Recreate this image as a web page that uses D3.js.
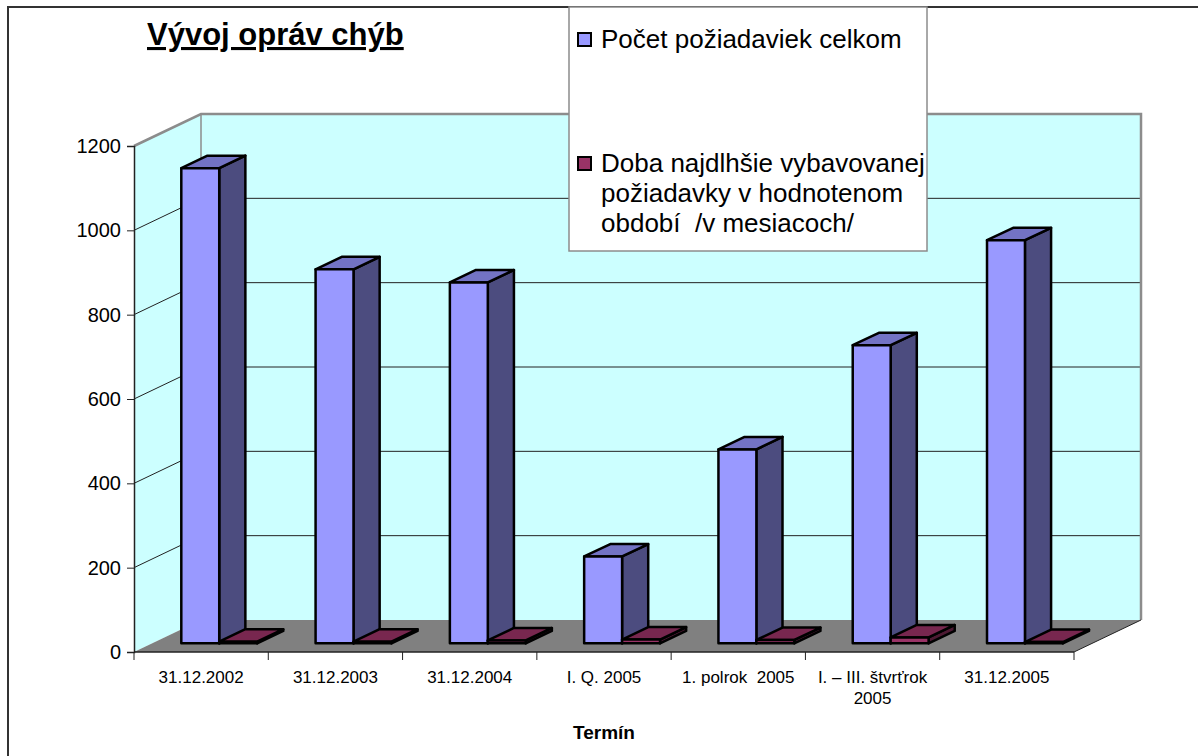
<!DOCTYPE html>
<html>
<head>
<meta charset="utf-8">
<script src="https://cdn.jsdelivr.net/npm/d3@7"></script>
<style>
  body { margin: 0; background: #fff; }
  svg text { font-family: "Liberation Sans", Arial, sans-serif; white-space: pre; }
</style>
</head>
<body>
<div id="chart"></div>
<script>
// data
var categories = ["31.12.2002", "31.12.2003", "31.12.2004", "I. Q. 2005", "1. polrok  2005", "I. \u2013 III. štvrťrok 2005", "31.12.2005"];
var labelLines = [["31.12.2002"], ["31.12.2003"], ["31.12.2004"], ["I. Q. 2005"], ["1. polrok  2005"], ["I. \u2013 III. štvrťrok", "2005"], ["31.12.2005"]];
var seriesNames = ["Počet požiadaviek celkom", "Doba najdlhšie vybavovanej požiadavky v hodnotenom období  /v mesiacoch/"];
var legendLines = [["Počet požiadaviek celkom"], ["Doba najdlhšie vybavovanej", "požiadavky v hodnotenom", "období  /v mesiacoch/"]];
var totalRequests = [1127, 887, 856, 206, 460, 707, 956];
var longestMonths = [4, 4, 7, 9, 8, 14, 3];
var yTicks = [0, 200, 400, 600, 800, 1000, 1200];

var faces = [
  {front: "#9999FF", top: "#7373C4", side: "#4C4C7F"},
  {front: "#993366", top: "#78274F", side: "#4D1A33"}
];

var W = 1198, H = 756;
var svg = d3.select("#chart").append("svg").attr("width", W).attr("height", H);

// outer frame
svg.append("rect").attr("x", 8).attr("y", 7).attr("width", W).attr("height", H)
   .attr("fill", "#fff").attr("stroke", "#333").attr("stroke-width", 2);

var left = 134, right = 1074, depthX = 67, depthY = -32;

var x = d3.scaleBand().domain(categories).range([left, right]).padding(0);
var y = d3.scaleLinear().domain([0, 1200]).range([652, 146]);
var xs = d3.scaleBand().domain([0, 1]).range([0, x.bandwidth()]).paddingInner(0).paddingOuter(0.77);
var z = d3.scaleLinear().domain([0, 1]).range([0, 1]); // depth fraction

function pt(px, py, f) { return [px + depthX * z(f), py + depthY * z(f)]; }
function poly(pts) { return pts.map(p => p.join(",")).join(" "); }

var y0 = y(0), yMax = y(1200);

// side wall
svg.append("polygon")
   .attr("points", poly([pt(left, y0, 0), pt(left, yMax, 0), pt(left, yMax, 1), pt(left, y0, 1)]))
   .attr("fill", "#CCFFFF").attr("stroke", "none");
// back wall
svg.append("polygon")
   .attr("points", poly([pt(left, y0, 1), pt(left, yMax, 1), pt(right, yMax, 1), pt(right, y0, 1)]))
   .attr("fill", "#CCFFFF").attr("stroke", "none");
// floor
svg.append("polygon")
   .attr("points", poly([pt(left, y0, 0), pt(right, y0, 0), pt(right, y0, 1), pt(left, y0, 1)]))
   .attr("fill", "#808080").attr("stroke", "none");

// gridlines
var grid = svg.append("g");
yTicks.filter(t => t > 0).forEach(t => {
  var a = pt(left, y(t), 0), b = pt(left, y(t), 1), c = pt(right, y(t), 1);
  grid.append("polyline").attr("points", poly([a, b, c]))
      .attr("fill", "none").attr("stroke", "#222").attr("stroke-width", 1);
});

// wall borders (grey)
svg.append("polyline")
   .attr("points", poly([pt(left, yMax, 0), pt(left, yMax, 1), pt(right, yMax, 1), pt(right, y0, 1)]))
   .attr("fill", "none").attr("stroke", "#8c8c8c").attr("stroke-width", 2.5);
svg.append("line")
   .attr("x1", pt(left, yMax, 1)[0]).attr("y1", pt(left, yMax, 1)[1])
   .attr("x2", pt(left, y0, 1)[0]).attr("y2", pt(left, y0, 1)[1])
   .attr("stroke", "#8c8c8c").attr("stroke-width", 1.5);
svg.append("line")
   .attr("x1", pt(right, y0, 0)[0]).attr("y1", pt(right, y0, 0)[1])
   .attr("x2", pt(right, y0, 1)[0]).attr("y2", pt(right, y0, 1)[1])
   .attr("stroke", "#222").attr("stroke-width", 1);

// bars
var zFront = 0.27, zBack = 0.66;
var bars = svg.append("g");
categories.forEach((c, i) => {
  [totalRequests[i], longestMonths[i]].forEach((v, s) => {
    var x0 = x(c) + xs(s), x1 = x0 + xs.bandwidth();
    var yt = y(v);
    var col = faces[s];
    var g = bars.append("g").attr("stroke", "#000").attr("stroke-width", 2.5).attr("stroke-linejoin", "round");
    g.append("polygon").attr("points", poly([pt(x1, y0, zFront), pt(x1, yt, zFront), pt(x1, yt, zBack), pt(x1, y0, zBack)]))
     .attr("fill", col.side);
    g.append("polygon").attr("points", poly([pt(x0, yt, zFront), pt(x1, yt, zFront), pt(x1, yt, zBack), pt(x0, yt, zBack)]))
     .attr("fill", col.top);
    g.append("polygon").attr("points", poly([pt(x0, y0, zFront), pt(x0, yt, zFront), pt(x1, yt, zFront), pt(x1, y0, zFront)]))
     .attr("fill", col.front);
  });
});

// y axis
var yAxis = svg.append("g").attr("transform", "translate(" + left + ",0)")
   .call(d3.axisLeft(y).tickValues(yTicks).tickSize(7).tickPadding(6).tickFormat(d3.format("d")));
yAxis.select(".domain").attr("stroke", "#222").attr("stroke-width", 1.5);
yAxis.selectAll(".tick line").attr("stroke", "#222");
yAxis.selectAll(".tick text").attr("font-size", 20).attr("fill", "#000")
     .style("font-family", "'Liberation Sans', Arial, sans-serif");

// x axis
var xAxis = svg.append("g").attr("transform", "translate(0," + y0 + ")");
xAxis.append("line").attr("x1", left).attr("x2", right).attr("stroke", "#222").attr("stroke-width", 1.5);
d3.range(categories.length + 1).forEach(k => {
  var tx = left + k * x.step();
  xAxis.append("line").attr("x1", tx).attr("x2", tx).attr("y1", 0).attr("y2", 8).attr("stroke", "#222");
});
categories.forEach((c, i) => {
  var t = xAxis.append("text").attr("x", x(c) + x.bandwidth() / 2).attr("y", 31)
     .attr("text-anchor", "middle").attr("font-size", 17).attr("fill", "#000");
  labelLines[i].forEach((ln, j) => {
    t.append("tspan").attr("x", x(c) + x.bandwidth() / 2).attr("dy", j === 0 ? 0 : 21).text(ln);
  });
});
svg.append("text").attr("x", 604).attr("y", 739).attr("text-anchor", "middle")
   .attr("font-size", 19).attr("font-weight", "bold").text("Termín");

// title
svg.append("text").attr("x", 147).attr("y", 45).attr("font-size", 31).attr("font-weight", "bold")
   .attr("text-decoration", "underline").text("Vývoj opráv chýb");

// legend
var lg = svg.append("g");
lg.append("rect").attr("x", 569).attr("y", 7).attr("width", 358).attr("height", 244)
  .attr("fill", "#fff").attr("stroke", "#8c8c8c").attr("stroke-width", 1.5);
var legendY = [48, 172];
legendLines.forEach((lines, s) => {
  lg.append("rect").attr("x", 578).attr("y", legendY[s] - 15).attr("width", 13).attr("height", 13)
    .attr("fill", faces[s].front).attr("stroke", "#000").attr("stroke-width", 2);
  var t = lg.append("text").attr("x", 601).attr("y", legendY[s]).attr("font-size", 26).attr("fill", "#000");
  lines.forEach((ln, j) => {
    t.append("tspan").attr("x", 601).attr("dy", j === 0 ? 0 : 30).text(ln);
  });
});
</script>
</body>
</html>
